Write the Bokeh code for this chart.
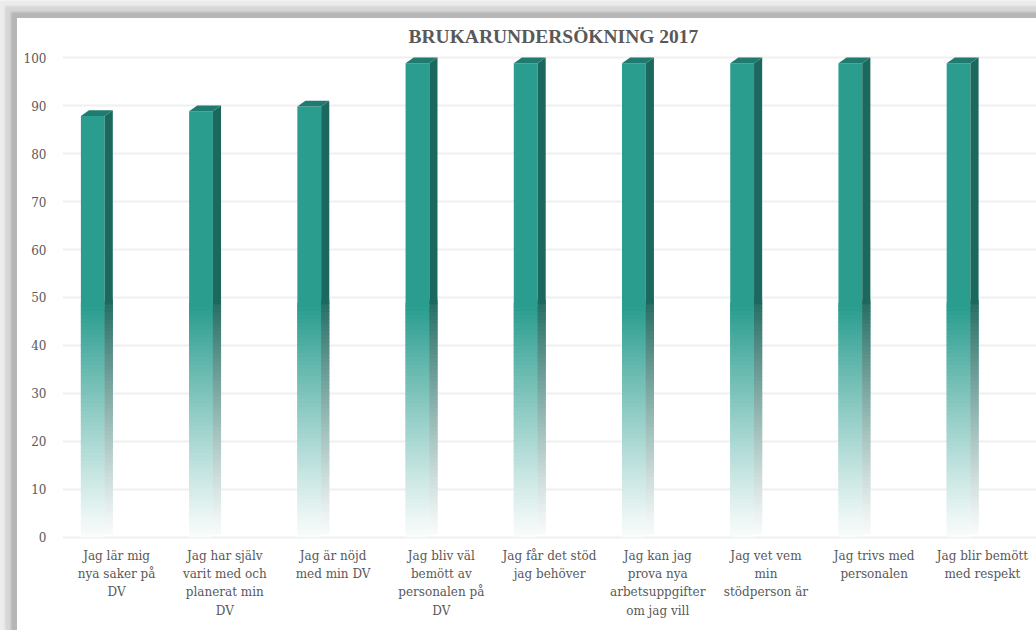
from bokeh.plotting import figure
from bokeh.models import FactorRange, Range1d, FixedTicker
from bokeh.core.properties import value
from bokeh.embed import file_html
from bokeh.resources import INLINE

# ---- data ----
title_text = "BRUKARUNDERSÖKNING 2017"
categories = [
    "Jag lär mig\nnya saker på\nDV",
    "Jag har själv\nvarit med och\nplanerat min\nDV",
    "Jag är nöjd\nmed min DV",
    "Jag bliv väl\nbemött av\npersonalen på\nDV",
    "Jag får det stöd\njag behöver",
    "Jag kan jag\nprova nya\narbetsuppgifter\nom jag vill",
    "Jag vet vem\nmin\nstödperson är",
    "Jag trivs med\npersonalen",
    "Jag blir bemött\nmed respekt",
]
values = [89, 90, 91, 100, 100, 100, 100, 100, 100]
y_ticks = [0, 10, 20, 30, 40, 50, 60, 70, 80, 90, 100]

# ---- style ----
FRONT = (42, 157, 143)
SIDE = (29, 104, 94)
TOP = "#1f7a70"
SERIF = "DejaVu Serif"
LABEL_COLOR = "#595959"

def mix(rgb, a):
    r, g, b = [int(round(c * a + 255 * (1 - a))) for c in rgb]
    return "#%02x%02x%02x" % (r, g, b)

frame_styles = {
    "box-shadow": ("0 0 2px 6px #b6b6b6, 0 0 2px 12px #d6d6d6, "
                   "0 0 2px 18px #ececec"),
}

p = figure(
    x_range=FactorRange(*categories, range_padding=0),
    y_range=Range1d(-19.4, 102.1),
    width=1019, height=612,
    margin=(18, 0, 0, 17),
    output_backend="svg", toolbar_location=None,
    min_border_left=45, min_border_right=0, min_border_top=29, min_border_bottom=0,
    styles=frame_styles,
)
p.outline_line_color = None
p.background_fill_color = "white"
p.border_fill_color = "white"

p.title.text = title_text
p.title.align = "left"
p.title.offset = 346
p.title.standoff = 1
p.title.text_font = "Liberation Serif"
p.title.text_font_size = "19.5px"
p.title.text_font_style = "bold"
p.title.text_color = "#595959"

# bars geometry (offset from category centre, in category units)
off_front = -0.22
w_front = 0.22
dx = 0.075   # depth shift (x)
dy = 1.2     # depth shift (y)
x_left = off_front - w_front / 2
x_right = off_front + w_front / 2

fade_top = 48.0
n_strips = 60

for cat, v in zip(categories, values):
    front_top = v - dy
    b0, t0, fc, sc = [], [], [], []
    for k in range(n_strips):
        lo = fade_top * k / n_strips
        hi = fade_top * (k + 1) / n_strips
        a = 0.03 + 0.97 * ((lo + hi) / 2 / fade_top) ** 1.1
        b0.append(lo)
        t0.append(hi + 1.0)
        fc.append(mix(FRONT, a))
        sc.append(mix(SIDE, a * 0.95))
    # front face strips (gradient)
    p.quad(left=[(cat, x_left)] * n_strips, right=[(cat, x_right)] * n_strips,
           bottom=b0, top=t0, fill_color=fc, line_color=None)
    # side face strips (gradient)
    p.quad(left=[(cat, x_right)] * n_strips, right=[(cat, x_right + dx)] * n_strips,
           bottom=[b + dy * 0.5 for b in b0], top=[t + dy * 0.5 for t in t0],
           fill_color=sc, line_color=None)
    # solid upper part
    p.quad(left=[(cat, x_left)], right=[(cat, x_right)], bottom=[fade_top],
           top=[front_top], fill_color=mix(FRONT, 1), line_color=None)
    p.patch(x=[(cat, x_right), (cat, x_right), (cat, x_right + dx), (cat, x_right + dx)],
            y=[fade_top + dy * 0.5, front_top, v, fade_top + dy * 0.5],
            fill_color=mix(SIDE, 1), line_color=None)
    # top face
    p.patch(x=[(cat, x_left), (cat, x_right), (cat, x_right + dx), (cat, x_left + dx)],
            y=[front_top, front_top, v, v],
            fill_color=TOP, line_color=None)

# category labels as text below the zero line
p.text(x=categories, y=[-2.4] * len(categories), text=categories,
       text_font=value(SERIF), text_font_size="12px", text_color=LABEL_COLOR,
       text_align="center", text_baseline="top", text_line_height=1.3)

# axes
p.xaxis.visible = False
p.yaxis.ticker = FixedTicker(ticks=y_ticks)
p.yaxis.axis_line_color = None
p.yaxis.major_tick_line_color = None
p.yaxis.minor_tick_line_color = None
p.yaxis.major_label_text_font = SERIF
p.yaxis.major_label_text_font_size = "12px"
p.yaxis.major_label_text_color = LABEL_COLOR
p.yaxis.major_label_standoff = 10

p.xgrid.grid_line_color = None
p.ygrid.grid_line_color = "#efefef"
p.ygrid.grid_line_width = 2
p.ygrid.ticker = FixedTicker(ticks=y_ticks)

open("out.html", "w").write(file_html(p, INLINE))
